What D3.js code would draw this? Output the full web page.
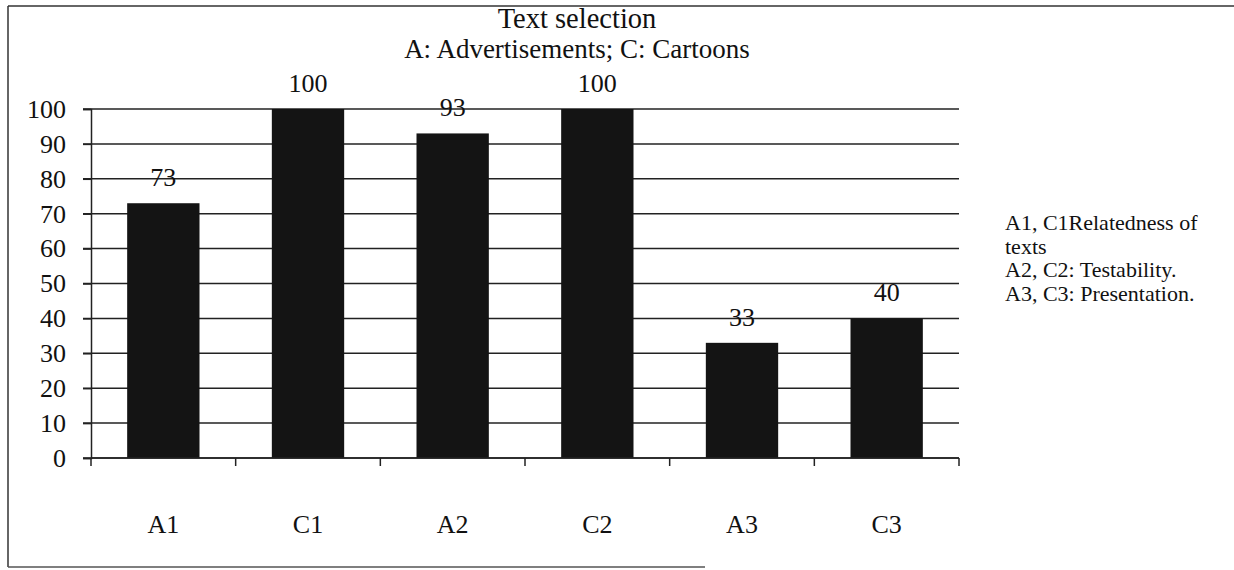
<!DOCTYPE html>
<html>
<head>
<meta charset="utf-8">
<script src="https://cdn.jsdelivr.net/npm/d3@7"></script>
<style>
html,body{margin:0;padding:0;background:#fff;}
svg text{font-family:"Liberation Serif","Times New Roman",serif;fill:#111;}
</style>
</head>
<body>
<svg id="chart" width="1234" height="570"></svg>
<script>
const categories = ["A1","C1","A2","C2","A3","C3"];
const values = [73,100,93,100,33,40];
const yTicks = [0,10,20,30,40,50,60,70,80,90,100];
const titleLines = ["Text selection","A: Advertisements; C: Cartoons"];
const legendLines = ["A1, C1Relatedness of","texts","A2, C2: Testability.","A3, C3: Presentation."];

const svg = d3.select("#chart");
const m = {left:91, right:959, top:109, bottom:458};

// frame
svg.append("line").attr("x1",8).attr("x2",1234).attr("y1",6).attr("y2",6).attr("stroke","#333").attr("stroke-width",1.5);
svg.append("line").attr("x1",8).attr("x2",8).attr("y1",6).attr("y2",567).attr("stroke","#333").attr("stroke-width",1.5);
svg.append("line").attr("x1",8).attr("x2",705).attr("y1",567).attr("y2",567).attr("stroke","#555").attr("stroke-width",1.5);

const x = d3.scaleBand().domain(categories).range([m.left,m.right]).paddingInner(0.5).paddingOuter(0.25);
const y = d3.scaleLinear().domain([0,100]).range([m.bottom,m.top]);

// gridlines
svg.append("g").selectAll("line").data(yTicks).join("line")
  .attr("x1",m.left-8).attr("x2",m.right)
  .attr("y1",d=>y(d)).attr("y2",d=>y(d))
  .attr("stroke","#222").attr("stroke-width",1.5);

// y axis
const yAxis = svg.append("g").attr("transform",`translate(${m.left},0)`)
  .call(d3.axisLeft(y).tickValues(yTicks).tickSize(8).tickPadding(17));
yAxis.attr("font-family",null).attr("font-size",null);
yAxis.select(".domain").attr("stroke","#222").attr("stroke-width",1.5);
yAxis.selectAll(".tick line").attr("stroke","#222").attr("stroke-width",1.5);
yAxis.selectAll("text").attr("font-size",26).attr("font-family","Liberation Serif").attr("fill","#111");

// bars
svg.append("g").selectAll("rect").data(values).join("rect")
  .attr("x",(d,i)=>x(categories[i]))
  .attr("width",x.bandwidth())
  .attr("y",d=>y(d))
  .attr("height",d=>y(0)-y(d))
  .attr("fill","#141414");

// x axis
const xTickPos = d3.range(categories.length+1).map(i=>m.left + i*(m.right-m.left)/categories.length);
svg.append("line").attr("x1",m.left).attr("x2",m.right).attr("y1",m.bottom).attr("y2",m.bottom).attr("stroke","#222").attr("stroke-width",1.5);
svg.append("g").selectAll("line").data(xTickPos).join("line")
  .attr("x1",d=>d).attr("x2",d=>d).attr("y1",m.bottom).attr("y2",m.bottom+8)
  .attr("stroke","#222").attr("stroke-width",1.5);
svg.append("g").selectAll("text").data(categories).join("text")
  .attr("x",d=>x(d)+x.bandwidth()/2).attr("y",533)
  .attr("text-anchor","middle").attr("font-size",26).text(d=>d);

// value labels
svg.append("g").selectAll("text").data(values).join("text")
  .attr("x",(d,i)=>x(categories[i])+x.bandwidth()/2)
  .attr("y",d=>y(d)-17)
  .attr("text-anchor","middle").attr("font-size",26).text(d=>d);

// title
svg.append("g").selectAll("text").data(titleLines).join("text")
  .attr("x",577).attr("y",(d,i)=>28+i*30)
  .attr("text-anchor","middle").attr("font-size",(d,i)=>i===0?28.5:27).text(d=>d);

// legend
svg.append("g").selectAll("text").data(legendLines).join("text")
  .attr("x",1005).attr("y",(d,i)=>230+i*23.5)
  .attr("font-size",22).text(d=>d);
</script>
</body>
</html>
